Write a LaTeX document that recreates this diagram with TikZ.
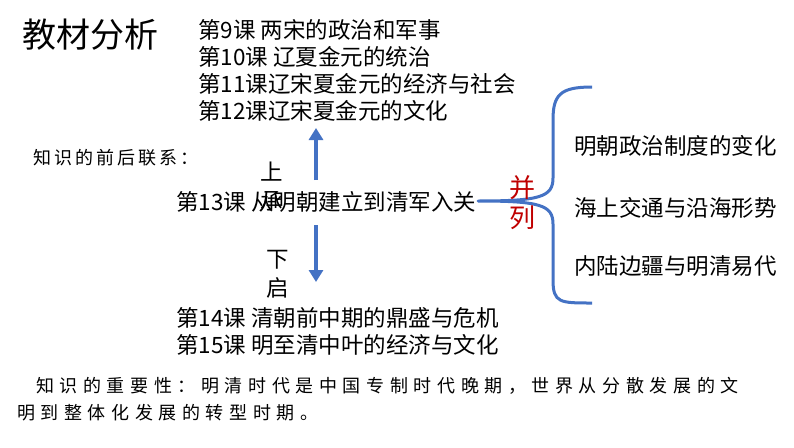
\documentclass[tikz,border=0pt]{standalone}
\usepackage{fontspec}
\setmainfont{Noto Sans CJK SC}
\usetikzlibrary{arrows.meta}
\definecolor{bl}{RGB}{68,114,196}
\definecolor{rd}{RGB}{192,0,0}
\newcommand\myg{\hspace{5.6pt}}
\tikzset{
 t/.style={anchor=west,inner sep=0pt,font=\fontsize{22.5}{22.5}\selectfont},
 s/.style={anchor=west,inner sep=0pt,font=\fontsize{18}{18}\selectfont},
 ar/.style={bl,line width=4pt,-{Triangle[length=12pt,width=14pt]}}
}
\begin{document}
\begin{tikzpicture}[x=1pt,y=-1pt]
\useasboundingbox (0,0) rectangle (794,447);
\fill[white] (0,0) rectangle (794,447);
\node[anchor=west,inner sep=0pt,font=\fontsize{34}{34}\selectfont] (title) at (22,35) {教材分析};
\node[t] (l9) at (198,30) {第9课\ 两宋的政治和军事};
\node[t] (l10) at (198,57) {第10课\ 辽夏金元的统治};
\node[t] (l11) at (198,84) {第11课辽宋夏金元的经济与社会};
\node[t] (l12) at (198,111) {第12课辽宋夏金元的文化};
\node[s] (kn) at (33,158) {知\,识\,的\,前\,后\,联\,系\,：};
\node[t] (l13) at (176,202) {第13课\ 从明朝建立到清军入关};
\node[t] (sh) at (260,172) {上};
\node[t] (ch) at (260,201) {承};
\node[t] (xia) at (266,260) {下};
\node[t] (qi) at (266,288) {启};
\node[t] (l14) at (176,318) {第14课\ 清朝前中期的鼎盛与危机};
\node[t] (l15) at (176,345) {第15课\ 明至清中叶的经济与文化};
\coordinate (u1) at (316,180); \coordinate (u2) at (316,128);
\coordinate (d1) at (316,225); \coordinate (d2) at (316,282);
\draw[ar] (u1) -- (u2);
\draw[ar] (d1) -- (d2);
\coordinate (tip) at (478,201);
\draw[bl,line width=3pt,line join=round] (592,87) .. controls (560,87) and (553,95) .. (553,120) -- (553,178) .. controls (553,197) and (540,201) .. (tip) .. controls (540,201) and (553,205) .. (553,224) -- (553,280) .. controls (553,303) and (560,303) .. (592,303);
\node[inner sep=0pt,font=\fontsize{26}{26}\selectfont,text=rd] (bing) at (522,188) {并};
\node[inner sep=0pt,font=\fontsize{26}{26}\selectfont,text=rd] (lie) at (522,218) {列};
\node[t] (r1) at (574,146) {明朝政治制度的变化};
\node[t] (r2) at (574,208) {海上交通与沿海形势};
\node[t] (r3) at (574,266) {内陆边疆与明清易代};
\node[s] (imp1) at (36,386) {知\myg 识\myg 的\myg 重\myg 要\myg 性\myg ：\myg 明\myg 清\myg 时\myg 代\myg 是\myg 中\myg 国\myg 专\myg 制\myg 时\myg 代\myg 晚\myg 期\myg ，\myg 世\myg 界\myg 从\myg 分\myg 散\myg 发\myg 展\myg 的\myg 文};
\node[s] (imp2) at (17,413) {明\myg 到\myg 整\myg 体\myg 化\myg 发\myg 展\myg 的\myg 转\myg 型\myg 时\myg 期\myg 。};
\end{tikzpicture}
\end{document}
